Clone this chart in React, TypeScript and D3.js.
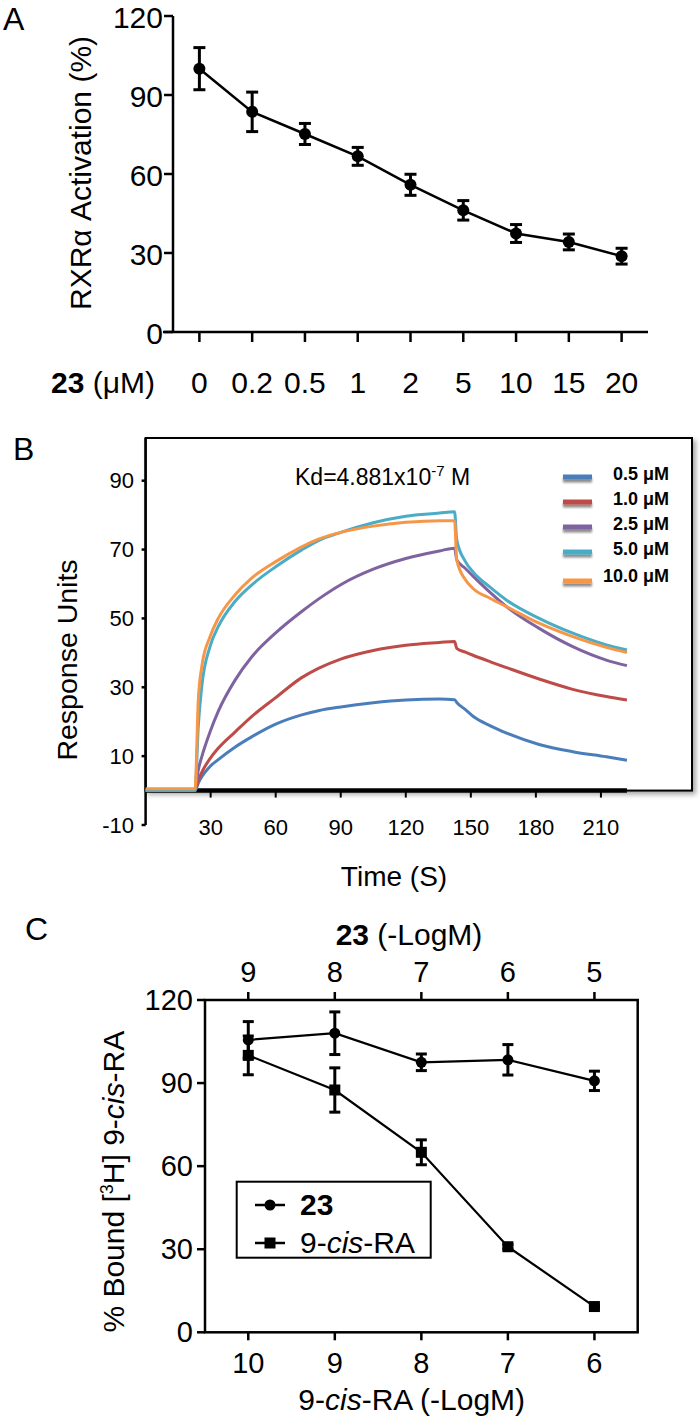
import React from 'react';
import * as d3 from 'd3';

const FONT = '"Liberation Sans", Arial, Helvetica, sans-serif';

// ---------- Panel A ----------
const aDoses = ['0', '0.2', '0.5', '1', '2', '5', '10', '15', '20'];
const aActivation = [100, 83.6, 75.2, 66.7, 55.9, 46.2, 37.4, 34.2, 28.8];
const aSem = [8, 7.5, 4, 3.4, 4, 3.7, 3.4, 3, 3];
const aYTicks = [0, 30, 60, 90, 120];

// ---------- Panel B ----------
const bTime = [0, 22.8, 24.3, 25.9, 29.7, 33.5, 41.2, 48.9, 60, 72, 79.7, 90, 105, 120, 135.5, 142.5, 143.5, 147.5, 151, 159, 166.5, 181.5, 197, 212.5, 222];
const bConc05 = [0, 0, 2.2, 4.0, 7.0, 9.0, 12.6, 15.6, 19.3, 22.0, 23.2, 24.3, 25.5, 26.3, 26.6, 26.4, 25.6, 23.5, 21.6, 18.8, 16.7, 13.4, 11.3, 9.8, 8.8];
const bConc10 = [0, 0, 3.0, 5.3, 9.3, 12.3, 17.0, 21.5, 27.0, 32.8, 35.5, 38.2, 40.7, 42.2, 43.0, 43.3, 41.3, 40.2, 39.3, 37.4, 35.7, 32.4, 29.4, 27.3, 26.3];
const bConc25 = [0, 0, 6.0, 9.8, 17.0, 23.0, 32.0, 38.8, 45.8, 52.0, 55.6, 59.8, 64.3, 67.4, 69.6, 70.4, 67, 64.5, 62.3, 57.5, 53.4, 47.1, 41.8, 37.9, 36.3];
const bConc50 = [0, 0, 18.6, 30.2, 41.8, 47.6, 54.9, 59.7, 65.0, 69.9, 72.6, 75.0, 77.8, 79.7, 80.6, 81.0, 72.8, 66.5, 63.5, 59.0, 55.3, 50.0, 45.7, 42.3, 40.8];
const bConc100 = [0.5, 0.5, 26.3, 36.0, 44.7, 50.0, 56.8, 61.7, 66.5, 70.8, 73.0, 75.0, 76.8, 77.9, 78.4, 78.4, 67, 61.2, 58.7, 55.8, 53.4, 48.6, 44.7, 41.6, 40.1];
const bBlankTime = [0, 222];
const bBlankValue = [0, 0];
const bSeriesLabels = ['0.5 μM', '1.0 μM', '2.5 μM', '5.0 μM', '10.0 μM'];
const bYTicks = [90, 70, 50, 30, 10, -10];
const bXTicks = [30, 60, 90, 120, 150, 180, 210];
const bKdMantissa = 'Kd=4.881x10';
const bKdExponent = '-7';

// ---------- Panel C ----------
const cTopTicks = [9, 8, 7, 6, 5];
const cBottomTicks = [10, 9, 8, 7, 6];
const c23Bound = [105.6, 108.0, 97.5, 98.4, 90.8];
const c23Sem = [6.6, 7.7, 3, 5.5, 3.5];
const c9cisBound = [100, 87.5, 65.0, 30.9, 9.3];
const c9cisSem = [7, 8, 4.5, 0.8, 0.5];
const cYTicks = [0, 30, 60, 90, 120];

const bColors = ['#4a7ebb', '#be4b48', '#7f63a1', '#4aacc5', '#f79646'];

export default function App() {
  // ---- A scales
  const ax = d3.scalePoint<string>().domain(aDoses).range([173, 648]).padding(0.5);
  const ay = d3.scaleLinear().domain([0, 120]).range([332, 16]);
  const aLine = d3.line<number>().x((_, i) => ax(aDoses[i]) as number).y((d) => ay(d));

  // ---- B scales
  const bx = d3.scaleLinear().domain([0, 252]).range([145.6, 692]);
  const by = d3.scaleLinear().domain([-10, 102.4]).range([825, 438]);
  const bLine = d3
    .line<number>()
    .x((_, i) => bx(bTime[i]))
    .y((d) => by(d))
    .curve(d3.curveMonotoneX);
  const bSeries = [bConc05, bConc10, bConc25, bConc50, bConc100];

  // ---- C scales
  const cxb = d3.scaleLinear().domain([10.5, 5.5]).range([205, 637.7]);
  const cxt = d3.scaleLinear().domain([9.5, 4.5]).range([205, 637.7]);
  const cy = d3.scaleLinear().domain([0, 120]).range([1332.3, 1000]);
  const c23Line = d3.line<number>().x((_, i) => cxt(cTopTicks[i])).y((d) => cy(d));
  const c9Line = d3.line<number>().x((_, i) => cxb(cBottomTicks[i])).y((d) => cy(d));

  const errBar = (x: number, yTop: number, yBot: number, cap: number, key: string, sw = 3) => (
    <g key={key} stroke="#000" strokeWidth={sw}>
      <line x1={x} x2={x} y1={yTop} y2={yBot} />
      <line x1={x - cap / 2} x2={x + cap / 2} y1={yTop} y2={yTop} />
      <line x1={x - cap / 2} x2={x + cap / 2} y1={yBot} y2={yBot} />
    </g>
  );

  const legendTop = 477;

  return (
    <svg
      width={700}
      height={1420}
      style={{ position: 'absolute', left: 0, top: 0, display: 'block', background: '#fff' }}
      fontFamily={FONT}
    >
      <defs>
        <filter id="shadow" x="-10%" y="-10%" width="130%" height="130%">
          <feDropShadow dx="3" dy="3" stdDeviation="2.5" floodColor="#000" floodOpacity="0.35" />
        </filter>
        <filter id="lshadow" x="-20%" y="-100%" width="140%" height="400%">
          <feDropShadow dx="0" dy="3" stdDeviation="1.3" floodColor="#000" floodOpacity="0.45" />
        </filter>
      </defs>
      <rect x={0} y={0} width={700} height={1420} fill="#fff" />

      {/* ================= Panel A ================= */}
      <text x={3} y={30} fontSize={32}>A</text>
      <line x1={173} x2={173} y1={ay(120)} y2={ay(0)} stroke="#000" strokeWidth={2.5} />
      {aYTicks.map((t) => (
        <g key={'ayt' + t}>
          <line x1={164} x2={173} y1={ay(t)} y2={ay(t)} stroke="#000" strokeWidth={2.5} />
          <text x={163} y={ay(t)} dy="0.4em" fontSize={30} textAnchor="end">{t}</text>
        </g>
      ))}
      <line x1={163} x2={648} y1={ay(0)} y2={ay(0)} stroke="#000" strokeWidth={2.5} />
      {aDoses.map((d) => (
        <g key={'axt' + d}>
          <line x1={ax(d)} x2={ax(d)} y1={ay(0)} y2={ay(0) + 10} stroke="#000" strokeWidth={2.5} />
          <text x={ax(d)} y={393} fontSize={30} textAnchor="middle">{d}</text>
        </g>
      ))}
      <text x={155} y={393} fontSize={30} textAnchor="end">
        <tspan fontWeight="bold">23</tspan> (μM)
      </text>
      <text transform="translate(91,173) rotate(-90)" fontSize={30} textAnchor="middle">
        RXRα Activation (%)
      </text>
      <path d={aLine(aActivation) || ''} fill="none" stroke="#000" strokeWidth={2.5} />
      {aActivation.map((v, i) =>
        errBar(ax(aDoses[i]) as number, ay(v + aSem[i]), ay(v - aSem[i]), 12, 'ae' + i)
      )}
      {aActivation.map((v, i) => (
        <circle key={'ac' + i} cx={ax(aDoses[i])} cy={ay(v)} r={6} fill="#000" />
      ))}

      {/* ================= Panel B ================= */}
      <text x={13} y={460} fontSize={32}>B</text>
      <rect
        x={bx(0)}
        y={by(102.4)}
        width={bx(252) - bx(0)}
        height={by(0) - by(102.4)}
        fill="#fff"
        stroke="#000"
        strokeWidth={2}
        filter="url(#shadow)"
      />
      <line x1={bx(0)} x2={bx(0)} y1={by(102.4)} y2={by(-10)} stroke="#000" strokeWidth={2.5} />
      {bYTicks.map((t) => (
        <g key={'byt' + t}>
          <line x1={bx(0) - 4} x2={bx(0)} y1={by(t)} y2={by(t)} stroke="#000" strokeWidth={2.5} />
          <text x={134} y={by(t)} dy="0.35em" fontSize={22} textAnchor="end">{t}</text>
        </g>
      ))}
      {bXTicks.map((t) => (
        <g key={'bxt' + t}>
          <line x1={bx(t)} x2={bx(t)} y1={by(0)} y2={by(0) + 7} stroke="#000" strokeWidth={2} />
          <text x={bx(t)} y={835} fontSize={22} textAnchor="middle">{t}</text>
        </g>
      ))}
      <line
        x1={bx(bBlankTime[0])}
        x2={bx(bBlankTime[1])}
        y1={by(bBlankValue[0])}
        y2={by(bBlankValue[1])}
        stroke="#000"
        strokeWidth={4.5}
      />
      {bSeries.map((s, i) => (
        <path key={'bs' + i} d={bLine(s) || ''} fill="none" stroke={bColors[i]} strokeWidth={3} strokeLinejoin="round" />
      ))}
      <text x={295} y={485} fontSize={23}>
        {bKdMantissa}
        <tspan fontSize={15} dy={-9}>{bKdExponent}</tspan>
        <tspan dy={9}> M</tspan>
      </text>
      {bSeriesLabels.map((lab, i) => {
        const ly = legendTop + i * 25 + (i === 4 ? 4 : 0);
        return (
          <g key={'bl' + i}>
            <rect x={563} y={ly - 2.5} width={29} height={5} fill={bColors[i]} filter="url(#lshadow)" />
            <text x={669} y={ly + (i === 4 ? 1 : 3)} fontSize={18} fontWeight="bold" textAnchor="end">{lab}</text>
          </g>
        );
      })}
      <text transform="translate(77,660) rotate(-90)" fontSize={28.5} textAnchor="middle">Response Units</text>
      <text x={394} y={886} fontSize={28} textAnchor="middle">Time (S)</text>

      {/* ================= Panel C ================= */}
      <text x={25} y={940} fontSize={32}>C</text>
      <rect
        x={cxb(10.5)}
        y={cy(120)}
        width={cxb(5.5) - cxb(10.5)}
        height={cy(0) - cy(120)}
        fill="none"
        stroke="#000"
        strokeWidth={2.5}
      />
      {cYTicks.map((t) => (
        <g key={'cyt' + t}>
          <line x1={197} x2={205} y1={cy(t)} y2={cy(t)} stroke="#000" strokeWidth={2.5} />
          <text x={193} y={cy(t)} dy="0.35em" fontSize={29} textAnchor="end">{t}</text>
        </g>
      ))}
      {cBottomTicks.map((t) => (
        <g key={'cbt' + t}>
          <line x1={cxb(t)} x2={cxb(t)} y1={cy(0)} y2={cy(0) + 8} stroke="#000" strokeWidth={2.5} />
          <text x={cxb(t)} y={1373} fontSize={29} textAnchor="middle">{t}</text>
        </g>
      ))}
      {cTopTicks.map((t) => (
        <g key={'ctt' + t}>
          <line x1={cxt(t)} x2={cxt(t)} y1={cy(120) - 8} y2={cy(120)} stroke="#000" strokeWidth={2.5} />
          <text x={cxt(t)} y={982} fontSize={29} textAnchor="middle">{t}</text>
        </g>
      ))}
      <text x={409} y={945} fontSize={30} textAnchor="middle">
        <tspan fontWeight="bold">23</tspan> (-LogM)
      </text>
      <text x={411.7} y={1410} fontSize={30} textAnchor="middle">
        9-<tspan fontStyle="italic">cis</tspan>-RA (-LogM)
      </text>
      <text transform="translate(124,1181.7) rotate(-90)" fontSize={30} textAnchor="middle">
        % Bound [<tspan fontSize={18} dy={-11}>3</tspan>
        <tspan dy={11}>H] 9-</tspan>
        <tspan fontStyle="italic">cis</tspan>-RA
      </text>
      <path d={c23Line(c23Bound) || ''} fill="none" stroke="#000" strokeWidth={2.2} />
      <path d={c9Line(c9cisBound) || ''} fill="none" stroke="#000" strokeWidth={2.2} />
      {c23Bound.map((v, i) =>
        errBar(cxt(cTopTicks[i]), cy(v + c23Sem[i]), cy(v - c23Sem[i]), 11, 'c23e' + i)
      )}
      {c9cisBound.map((v, i) =>
        errBar(cxb(cBottomTicks[i]), cy(v + c9cisSem[i]), cy(v - c9cisSem[i]), 11, 'c9e' + i)
      )}
      {c23Bound.map((v, i) => (
        <circle key={'c23m' + i} cx={cxt(cTopTicks[i])} cy={cy(v)} r={5.5} fill="#000" />
      ))}
      {c9cisBound.map((v, i) => (
        <rect key={'c9m' + i} x={cxb(cBottomTicks[i]) - 5.5} y={cy(v) - 5.5} width={11} height={11} fill="#000" />
      ))}
      <rect x={236.7} y={1181.7} width={194} height={76} fill="#fff" stroke="#000" strokeWidth={2} />
      <line x1={255} x2={285} y1={1205} y2={1205} stroke="#000" strokeWidth={2.5} />
      <circle cx={270} cy={1205} r={5.5} fill="#000" />
      <text x={300} y={1215} fontSize={30} fontWeight="bold">23</text>
      <line x1={255} x2={285} y1={1243} y2={1243} stroke="#000" strokeWidth={2.5} />
      <rect x={264.5} y={1237.5} width={11} height={11} fill="#000" />
      <text x={300} y={1253} fontSize={30}>
        9-<tspan fontStyle="italic">cis</tspan>-RA
      </text>
    </svg>
  );
}
